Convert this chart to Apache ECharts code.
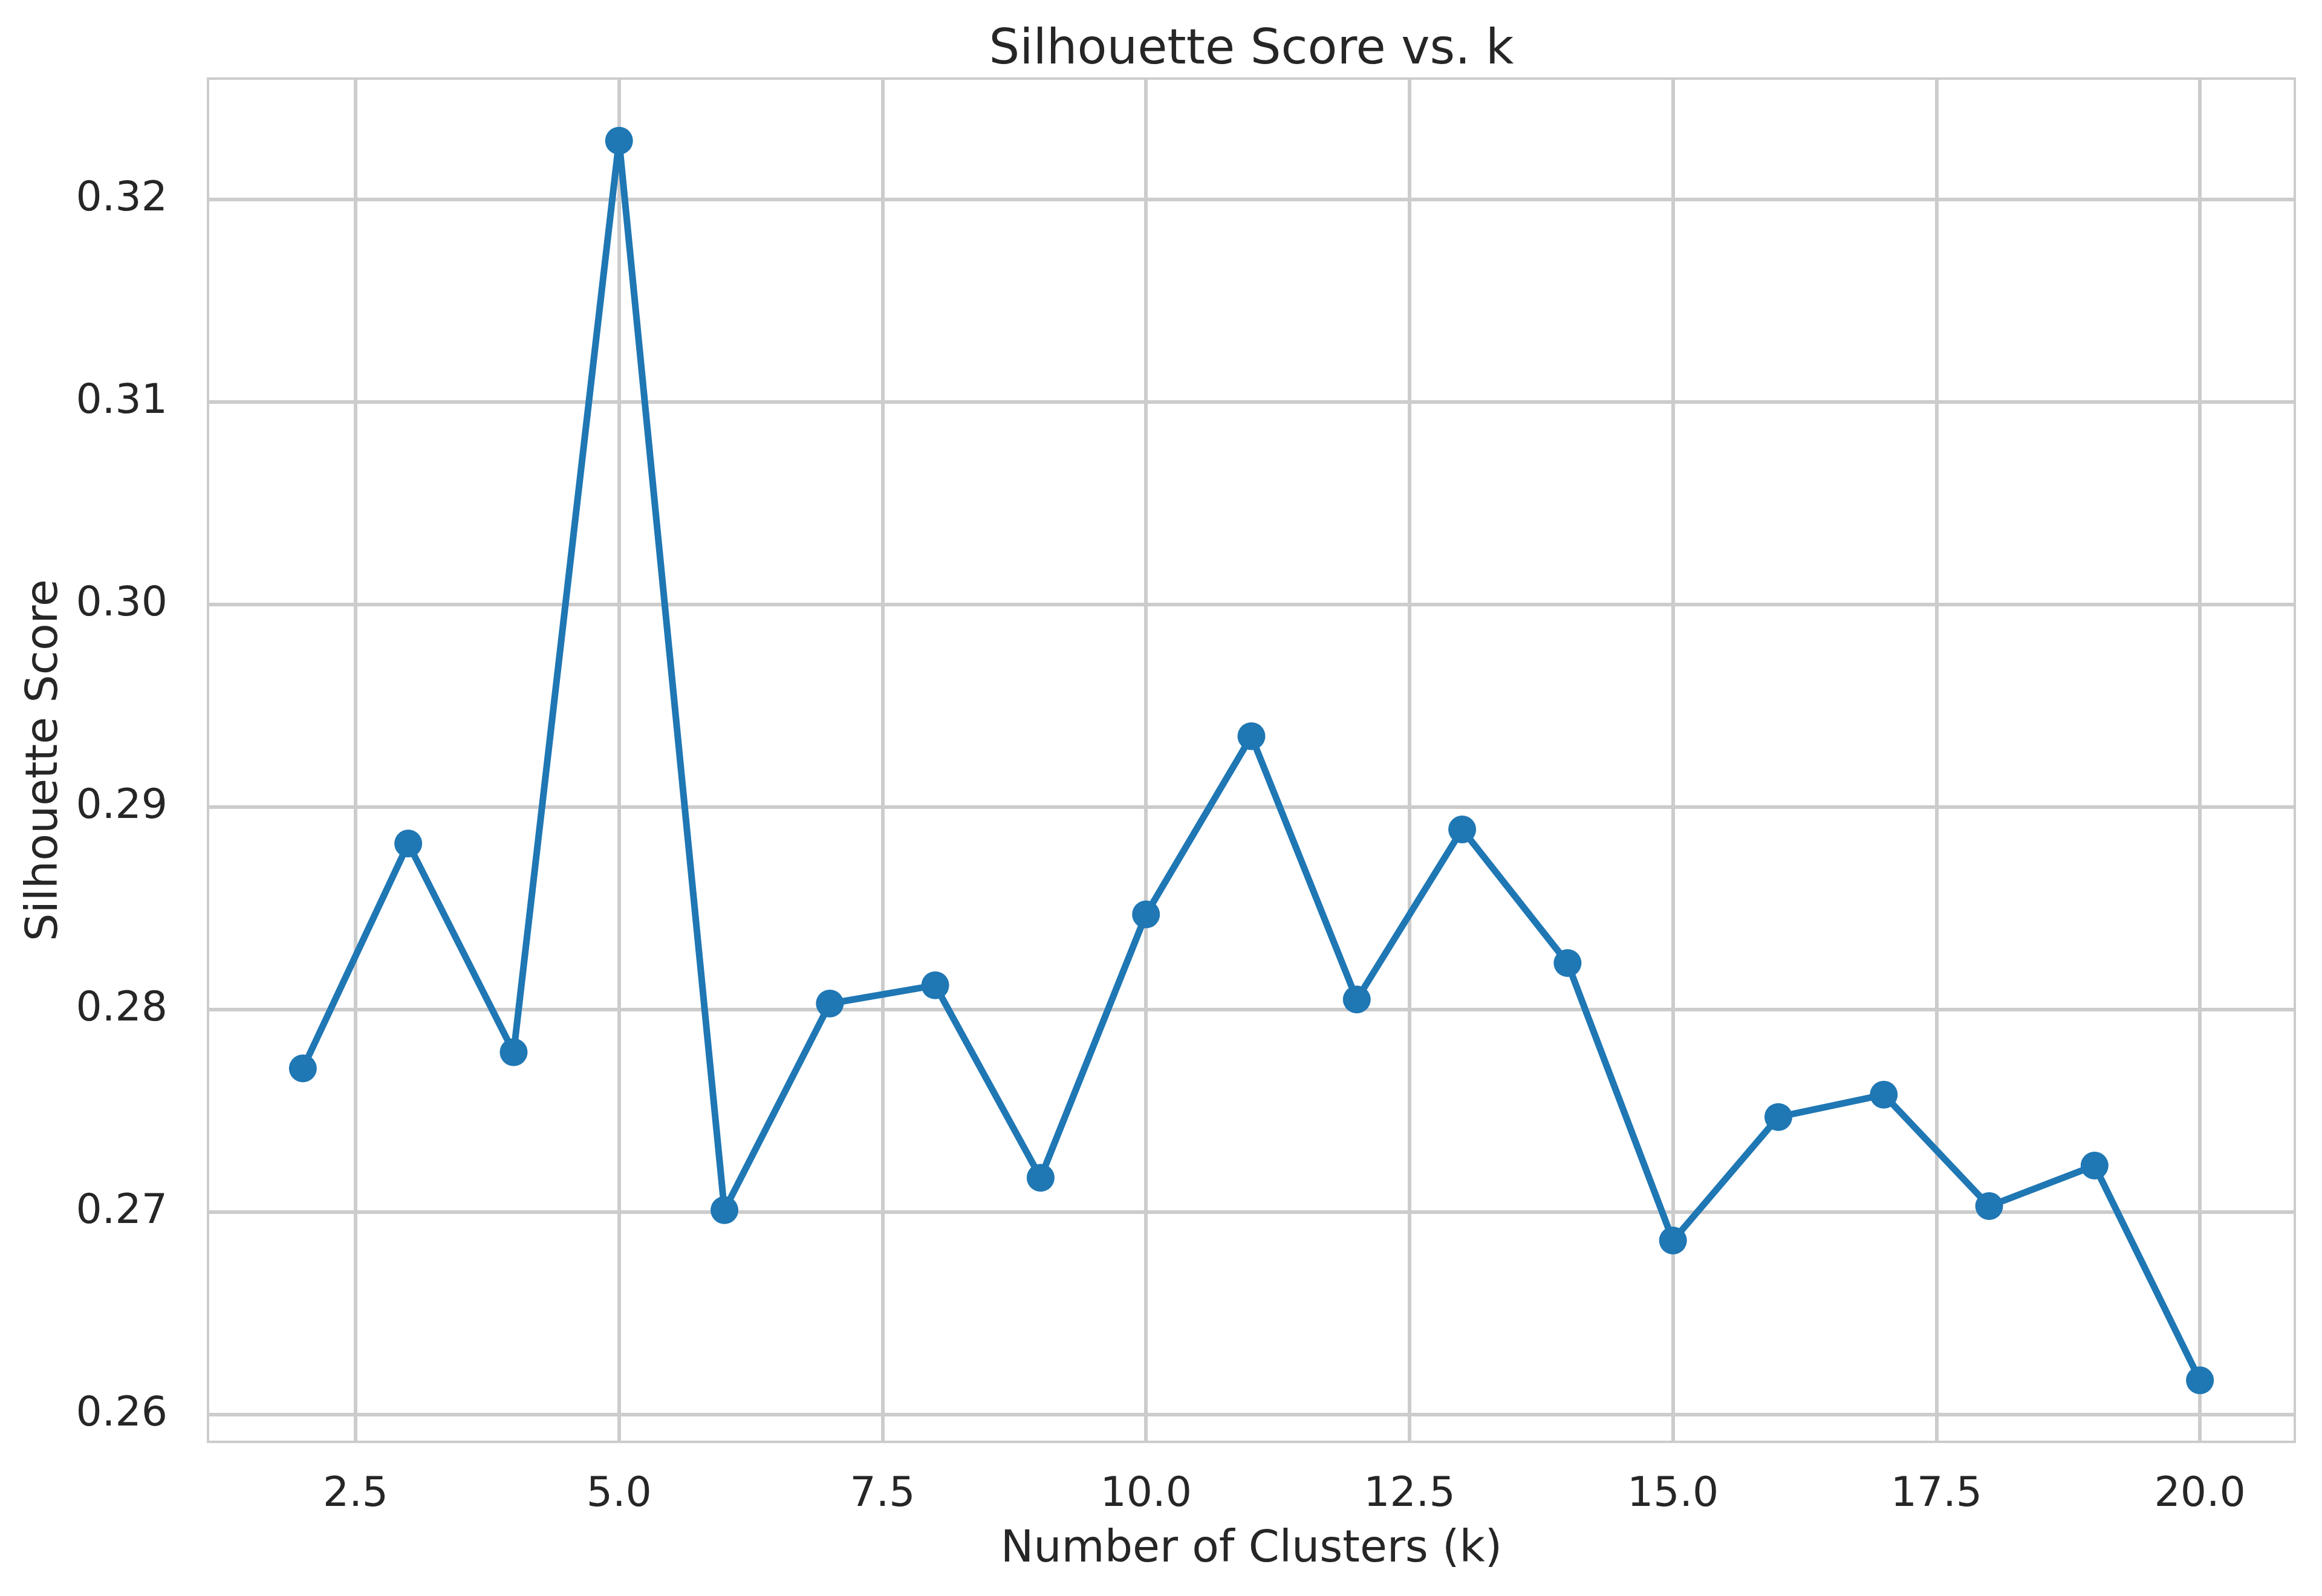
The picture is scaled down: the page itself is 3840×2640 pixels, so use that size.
<!DOCTYPE html>
<html>
<head>
<meta charset="utf-8">
<title>Silhouette Score vs. k</title>
<script src="https://cdn.jsdelivr.net/npm/echarts@6/dist/echarts.min.js"></script>
<style>
  html, body { margin: 0; padding: 0; background: #ffffff; }
  #chart { width: 3840px; height: 2640px; }
</style>
</head>
<body>
<div id="chart"></div>
<script>
// data
const clusterCounts = [2, 3, 4, 5, 6, 7, 8, 9, 10, 11, 12, 13, 14, 15, 16, 17, 18, 19, 20];
const silhouetteScores = [
  0.2771, 0.2882, 0.2779, 0.3229, 0.2701, 0.2803, 0.2812, 0.2717, 0.2847, 0.2935,
  0.2805, 0.2889, 0.2823, 0.2686, 0.2747, 0.2758, 0.2703, 0.2723, 0.2617
];
const xTicks = [2.5, 5.0, 7.5, 10.0, 12.5, 15.0, 17.5, 20.0];
const yTicks = [0.26, 0.27, 0.28, 0.29, 0.30, 0.31, 0.32];

const chart = echarts.init(document.getElementById('chart'), null, { renderer: 'canvas' });

const textColor = '#262626';
const gridColor = '#cccccc';
const font = 'DejaVu Sans';

// matplotlib style 5% margins around the data
const xMin = 1.1, xMax = 20.9;
const yMin = 0.25866, yMax = 0.32597;

const option = {
  backgroundColor: '#ffffff',
  animation: false,
  textStyle: { fontFamily: font, color: textColor },
  graphic: [
    {
      type: 'text',
      x: 2069.5,
      y: 84,
      style: {
        text: 'Silhouette Score vs. k',
        font: '80px "DejaVu Sans"',
        fill: textColor,
        textAlign: 'center',
        textVerticalAlign: 'middle'
      }
    }
  ],
  grid: {
    left: 344,
    right: 45,
    top: 130,
    bottom: 255,
    show: true,
    borderColor: gridColor,
    borderWidth: 4,
    backgroundColor: '#ffffff'
  },
  xAxis: {
    type: 'value',
    min: xMin,
    max: xMax,
    name: 'Number of Clusters (k)',
    nameLocation: 'middle',
    nameGap: 143,
    nameTextStyle: { fontSize: 73, color: textColor, fontFamily: font },
    axisLine: { show: false },
    axisTick: { show: false, customValues: xTicks },
    axisLabel: {
      customValues: xTicks,
      fontSize: 68,
      color: textColor,
      fontFamily: font,
      margin: 54,
      formatter: (v) => v.toFixed(1)
    },
    splitLine: { show: true, lineStyle: { color: gridColor, width: 6 } }
  },
  yAxis: {
    type: 'value',
    min: yMin,
    max: yMax,
    name: 'Silhouette Score',
    nameLocation: 'middle',
    nameGap: 232,
    nameTextStyle: { fontSize: 73, color: textColor, fontFamily: font },
    axisLine: { show: false },
    axisTick: { show: false, customValues: yTicks },
    axisLabel: {
      customValues: yTicks,
      fontSize: 68,
      color: textColor,
      fontFamily: font,
      margin: 67,
      formatter: (v) => v.toFixed(2)
    },
    splitLine: { show: true, lineStyle: { color: gridColor, width: 6 } }
  },
  series: [
    {
      name: 'Silhouette Score',
      type: 'line',
      data: clusterCounts.map((k, i) => [k, silhouetteScores[i]]),
      symbol: 'circle',
      symbolSize: 46,
      showAllSymbol: true,
      lineStyle: { color: '#1f77b4', width: 11 },
      itemStyle: { color: '#1f77b4' }
    }
  ]
};

chart.setOption(option);
</script>
</body>
</html>
